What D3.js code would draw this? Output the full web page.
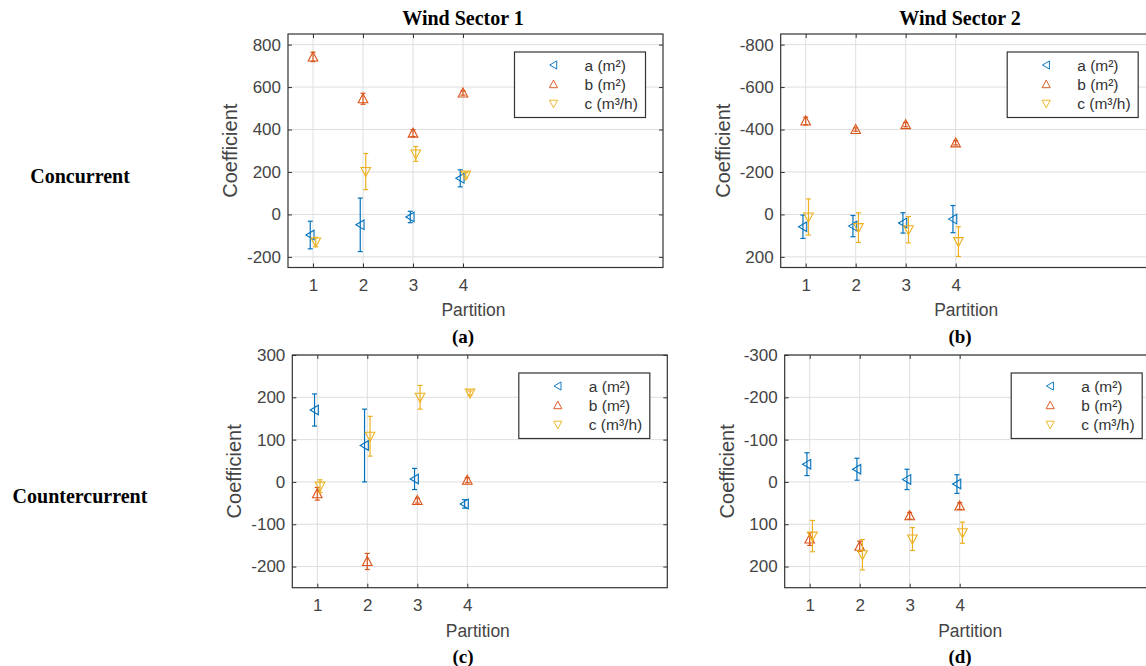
<!DOCTYPE html>
<html><head><meta charset="utf-8">
<script src="https://cdn.jsdelivr.net/npm/d3@7"></script>
<style>body{margin:0;background:#fff}svg{display:block}</style>
</head><body>
<svg id="chart" width="1146" height="666"></svg>
<script>
// ---------- data ----------
const partitions = [1, 2, 3, 4];
const xTickValues = [1, 2, 3, 4];
const seriesNames = ["a (m\u00B2)", "b (m\u00B2)", "c (m\u00B3/h)"];
const columnTitles = ["Wind Sector 1", "Wind Sector 2"];
const rowTitles = ["Concurrent", "Countercurrent"];
const panelLetters = ["(a)", "(b)", "(c)", "(d)"];

// panel (a) concurrent, sector 1
const aValsA = [-97, -49, -12, 170];   const aErrA = [65, 126, 27, 40];
const bValsA = [742, 545, 383, 572];   const bErrA = [22, 26, 16, 10];
const cValsA = [-130, 202, 285, 185];  const cErrA = [22, 85, 35, 12];
// panel (b) concurrent, sector 2
const aValsB = [58, 55, 40, 22];       const aErrB = [55, 50, 48, 64];
const bValsB = [-440, -400, -423, -337]; const bErrB = [18, 8, 10, 10];
const cValsB = [12, 62, 72, 128];      const cErrB = [85, 70, 62, 70];
// panel (c) countercurrent, sector 1
const aValsC = [170, 86, 7, -52];      const aErrC = [38, 86, 25, 10];
const bValsC = [-28, -188, -44, 4];    const bErrC = [15, 19, 6, 6];
const cValsC = [-10, 108, 200, 210];   const cErrC = [15, 47, 28, 5];
// panel (d) countercurrent, sector 2
const aValsD = [-42, -30, -6, 5];      const aErrD = [27, 26, 24, 22];
const bValsD = [135, 152, 80, 57];     const bErrD = [15, 12, 8, 8];
const cValsD = [128, 172, 135, 120];   const cErrD = [37, 36, 27, 25];

const yTicksA = [-200, 0, 200, 400, 600, 800];
const yTicksB = [-800, -600, -400, -200, 0, 200];
const yTicksC = [-200, -100, 0, 100, 200, 300];
const yTicksD = [-300, -200, -100, 0, 100, 200];

// ---------- drawing ----------
const colors = ["#0072BD", "#D95319", "#EDB120"];
const shapes = ["left", "up", "down"];
const offsets = [-0.055, 0, 0.055];
const sansFont = "'Liberation Sans', Arial, Helvetica, sans-serif";
const serifFont = "'Liberation Serif', 'Times New Roman', serif";

const svg = d3.select("#chart");

function squeeze(sx) {
  return sel => sel.each(function () {
    const t = d3.select(this);
    const x = +t.attr("x") || 0, y = +t.attr("y") || 0;
    t.attr("transform", `translate(${x},${y}) scale(${sx},1) translate(${-x},${-y})`);
  });
}

function markerPath(shape) {
  if (shape === "up") return "M0,-5L4.8,4L-4.8,4Z";
  if (shape === "down") return "M0,5L4.8,-4L-4.8,-4Z";
  return "M-4.4,0L3.8,-4.8L3.8,4.8Z";
}

const panels = [
  {left: 288, top: 34, w: 375, h: 233.5, dom: [-250, 850], rev: false, ticks: yTicksA,
   series: [[aValsA, aErrA], [bValsA, bErrA], [cValsA, cErrA]]},
  {left: 780.7, top: 34, w: 375, h: 233.5, dom: [-850, 250], rev: true, ticks: yTicksB,
   series: [[aValsB, aErrB], [bValsB, bErrB], [cValsB, cErrB]]},
  {left: 292.3, top: 355, w: 375, h: 232.7, dom: [-250, 300], rev: false, ticks: yTicksC,
   series: [[aValsC, aErrC], [bValsC, bErrC], [cValsC, cErrC]]},
  {left: 784.7, top: 355, w: 375, h: 232.7, dom: [-300, 250], rev: true, ticks: yTicksD,
   series: [[aValsD, aErrD], [bValsD, bErrD], [cValsD, cErrD]]}
];

panels.forEach((p, pi) => {
  const g = svg.append("g").attr("transform", `translate(${p.left},${p.top})`);
  const x = d3.scaleLinear().domain([0.5, 8]).range([0, p.w]);
  const y = d3.scaleLinear().domain(p.dom).range(p.rev ? [0, p.h] : [p.h, 0]);

  // grid
  g.append("g").selectAll("line").data(xTickValues).join("line")
    .attr("x1", d => x(d)).attr("x2", d => x(d)).attr("y1", 0).attr("y2", p.h)
    .attr("stroke", "#dedede").attr("stroke-width", 1);
  g.append("g").selectAll("line").data(p.ticks).join("line")
    .attr("y1", d => y(d)).attr("y2", d => y(d)).attr("x1", 0).attr("x2", p.w)
    .attr("stroke", "#dedede").attr("stroke-width", 1);

  // axes (inward ticks)
  const yAxis = g.append("g").call(d3.axisLeft(y).tickValues(p.ticks).tickSizeInner(-4).tickSizeOuter(0)
      .tickPadding(7).tickFormat(d => String(d)));
  const yAxisR = g.append("g").attr("transform", `translate(${p.w},0)`)
    .call(d3.axisRight(y).tickValues(p.ticks).tickSizeInner(-4).tickSizeOuter(0).tickFormat(""));
  const xAxis = g.append("g").attr("transform", `translate(0,${p.h})`)
    .call(d3.axisBottom(x).tickValues(xTickValues).tickSizeInner(-4).tickSizeOuter(0).tickPadding(11)
      .tickFormat(d3.format("d")));
  const xAxisT = g.append("g")
    .call(d3.axisTop(x).tickValues(xTickValues).tickSizeInner(-4).tickSizeOuter(0).tickFormat(""));
  [yAxis, yAxisR, xAxis, xAxisT].forEach(a => {
    a.select(".domain").remove();
    a.selectAll(".tick line").attr("stroke", "#333");
    a.selectAll("text").attr("fill", "#444").style("font-family", sansFont).style("font-size", "17px");
  });

  // box
  g.append("rect").attr("width", p.w).attr("height", p.h)
    .attr("fill", "none").attr("stroke", "#333").attr("stroke-width", 1.2);

  // series
  p.series.forEach(([vals, errs], si) => {
    const sg = g.append("g").attr("stroke", colors[si]).attr("fill", "none");
    const pts = partitions.map((pt, i) => ({px: x(pt + offsets[si]), v: vals[i], e: errs[i]}));
    sg.selectAll("line.bar").data(pts).join("line").attr("class", "bar")
      .attr("x1", d => d.px).attr("x2", d => d.px)
      .attr("y1", d => y(d.v - d.e)).attr("y2", d => y(d.v + d.e)).attr("stroke-width", 1.2);
    sg.selectAll("line.cap1").data(pts).join("line").attr("class", "cap1")
      .attr("x1", d => d.px - 2.5).attr("x2", d => d.px + 2.5)
      .attr("y1", d => y(d.v - d.e)).attr("y2", d => y(d.v - d.e)).attr("stroke-width", 1.2);
    sg.selectAll("line.cap2").data(pts).join("line").attr("class", "cap2")
      .attr("x1", d => d.px - 2.5).attr("x2", d => d.px + 2.5)
      .attr("y1", d => y(d.v + d.e)).attr("y2", d => y(d.v + d.e)).attr("stroke-width", 1.2);
    sg.selectAll("path").data(pts).join("path")
      .attr("d", markerPath(shapes[si]))
      .attr("transform", d => `translate(${d.px},${y(d.v)})`).attr("stroke-width", 1.1);
  });

  // legend
  const lg = g.append("g").attr("transform", "translate(226.5,18)");
  lg.append("rect").attr("width", 131).attr("height", 65.5)
    .attr("fill", "#fff").attr("stroke", "#333").attr("stroke-width", 1.2);
  seriesNames.forEach((nm, si) => {
    const ry = 13 + si * 19.3;
    lg.append("path").attr("d", markerPath(shapes[si]))
      .attr("transform", `translate(39,${ry}) scale(0.85)`)
      .attr("fill", "none").attr("stroke", colors[si]).attr("stroke-width", 1.1);
    lg.append("text").attr("x", 70).attr("y", ry + 5.5).text(nm)
      .attr("fill", "#333").style("font-family", sansFont).style("font-size", "15.5px");
  });

  // axis labels
  g.append("text").attr("x", p.w / 2 - 2).attr("y", p.h + 49).attr("text-anchor", "middle")
    .text("Partition").attr("fill", "#444").style("font-family", sansFont).style("font-size", "19px")
    .call(squeeze(0.92));
  const yl = g.append("g").attr("transform", `translate(${-51},${p.h / 2}) rotate(-90)`);
  yl.append("text").attr("x", 0).attr("y", 0).attr("text-anchor", "middle")
    .text("Coefficient").attr("fill", "#444").style("font-family", sansFont).style("font-size", "20px");

  // panel letter
  svg.append("text").attr("x", pi % 2 === 0 ? 463 : 960).attr("y", pi < 2 ? 343 : 663)
    .attr("text-anchor", "middle").text(panelLetters[pi])
    .style("font-family", serifFont).style("font-weight", "bold").style("font-size", "19px").attr("fill", "#000");
});

// column titles
columnTitles.forEach((t, i) => {
  svg.append("text").attr("x", i === 0 ? 463 : 960).attr("y", 25).attr("text-anchor", "middle").text(t)
    .style("font-family", serifFont).style("font-weight", "bold").style("font-size", "20px").attr("fill", "#000");
});
// row titles
rowTitles.forEach((t, i) => {
  svg.append("text").attr("x", 80).attr("y", i === 0 ? 183 : 503).attr("text-anchor", "middle").text(t)
    .style("font-family", serifFont).style("font-weight", "bold").style("font-size", "20px").attr("fill", "#000");
});
</script>
</body></html>
